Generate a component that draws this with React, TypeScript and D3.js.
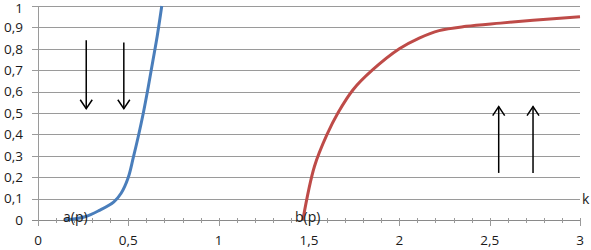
import React, { useEffect, useRef } from "react";
import * as d3 from "d3";

// --- data ---
const aX = [0.15, 0.26, 0.34, 0.42, 0.46, 0.5, 0.527, 0.555, 0.583, 0.61, 0.635, 0.66, 0.685];
const aY = [0, 0.015, 0.045, 0.085, 0.125, 0.2, 0.29, 0.39, 0.5, 0.62, 0.74, 0.86, 1.0];
const bX = [1.466, 1.53, 1.6, 1.66, 1.745, 1.85, 2.0, 2.11, 2.22, 2.37, 2.56, 2.74, 3.0];
const bY = [0, 0.25, 0.4, 0.5, 0.61, 0.7, 0.8, 0.85, 0.885, 0.905, 0.92, 0.933, 0.95];
const yTicks = [0, 0.1, 0.2, 0.3, 0.4, 0.5, 0.6, 0.7, 0.8, 0.9, 1];
const xTicks = [0, 0.5, 1, 1.5, 2, 2.5, 3];
// arrows: x, from y, to y
const arrowX = [0.267, 0.475, 2.55, 2.74];
const arrowFrom = [0.84, 0.83, 0.22, 0.22];
const arrowTo = [0.52, 0.52, 0.53, 0.53];

const fmt = (v: number) => String(v).replace(".", ",");

export default function App() {
  const svgRef = useRef<SVGSVGElement>(null);
  const width = 591;
  const height = 250;

  useEffect(() => {
    document.body.style.margin = "0";
    const svg = d3.select(svgRef.current);
    svg.selectAll("*").remove();
    const font = "'Open Sans', 'Noto Sans', sans-serif";

    const x = d3.scaleLinear().domain([0, 3]).range([38, 580]);
    const y = d3.scaleLinear().domain([0, 1]).range([220, 6]);

    // --- gridlines ---
    svg.append("g")
      .selectAll("line")
      .data(yTicks.filter(d => d > 0))
      .join("line")
      .attr("x1", 32).attr("x2", 580)
      .attr("y1", d => Math.round(y(d)) + 0.5)
      .attr("y2", d => Math.round(y(d)) + 0.5)
      .attr("stroke", "#9a9a9a");

    // --- y axis line ---
    svg.append("line")
      .attr("x1", 38.5).attr("x2", 38.5)
      .attr("y1", y(1)).attr("y2", y(0))
      .attr("stroke", "#9a9a9a");

    // --- x axis with minor ticks ---
    const xAxis = svg.append("g");
    xAxis.append("line")
      .attr("x1", 32).attr("x2", 580)
      .attr("y1", 220.5).attr("y2", 220.5)
      .attr("stroke", "#8a8a8a");
    const minor = d3.range(0, 31).map(i => i / 10);
    xAxis.selectAll("line.tick")
      .data(minor)
      .join("line")
      .attr("class", "tick")
      .attr("x1", d => Math.round(x(d)) + 0.5)
      .attr("x2", d => Math.round(x(d)) + 0.5)
      .attr("y1", 218)
      .attr("y2", d => (Math.round(d * 10) % 5 === 0 ? 226 : 223))
      .attr("stroke", "#9a9a9a");

    xAxis.selectAll("text")
      .data(xTicks)
      .join("text")
      .attr("x", d => x(d))
      .attr("y", 245)
      .attr("text-anchor", "middle")
      .attr("font-family", font)
      .attr("font-size", 13.5)
      .attr("fill", "#1a1a1a")
      .text(d => fmt(d));

    // --- y tick labels ---
    svg.append("g")
      .selectAll("text")
      .data(yTicks)
      .join("text")
      .attr("x", 23)
      .attr("y", d => Math.max(y(d), 8))
      .attr("dy", "0.35em")
      .attr("text-anchor", "end")
      .attr("font-family", font)
      .attr("font-size", 13.5)
      .attr("fill", "#1a1a1a")
      .text(d => fmt(d));

    // --- curves ---
    const line = d3.line<[number, number]>()
      .x(d => x(d[0]))
      .y(d => y(d[1]))
      .curve(d3.curveCatmullRom.alpha(0.5));

    svg.append("path")
      .attr("d", line(aX.map((v, i) => [v, aY[i]] as [number, number])))
      .attr("fill", "none")
      .attr("stroke", "#4a7ebb")
      .attr("stroke-width", 3);

    svg.append("path")
      .attr("d", line(bX.map((v, i) => [v, bY[i]] as [number, number])))
      .attr("fill", "none")
      .attr("stroke", "#be4b48")
      .attr("stroke-width", 3);

    // --- labels ---
    const label = (tx: number, ty: number, s: string) =>
      svg.append("text")
        .attr("x", tx).attr("y", ty)
        .attr("font-family", font).attr("font-size", 14).attr("fill", "#1a1a1a")
        .text(s);
    label(63, 222, "a(p)");
    label(295, 222, "b(p)");
    label(582, 204, "k");

    // --- arrows ---
    const arrows = svg.append("g").attr("stroke", "#000").attr("fill", "none").attr("stroke-width", 1.5);
    arrowX.forEach((ax, i) => {
      const px = x(ax);
      const y0 = y(arrowFrom[i]);
      const y1 = y(arrowTo[i]);
      const dir = y1 > y0 ? -1 : 1;
      arrows.append("line")
        .attr("x1", px).attr("x2", px)
        .attr("y1", y0).attr("y2", y1);
      arrows.append("path")
        .attr("d", `M${px - 6},${y1 + dir * 9}L${px},${y1}L${px + 6},${y1 + dir * 9}`);
    });
  }, []);

  return <svg ref={svgRef} width={width} height={height} style={{ display: "block", background: "#fff" }} />;
}
